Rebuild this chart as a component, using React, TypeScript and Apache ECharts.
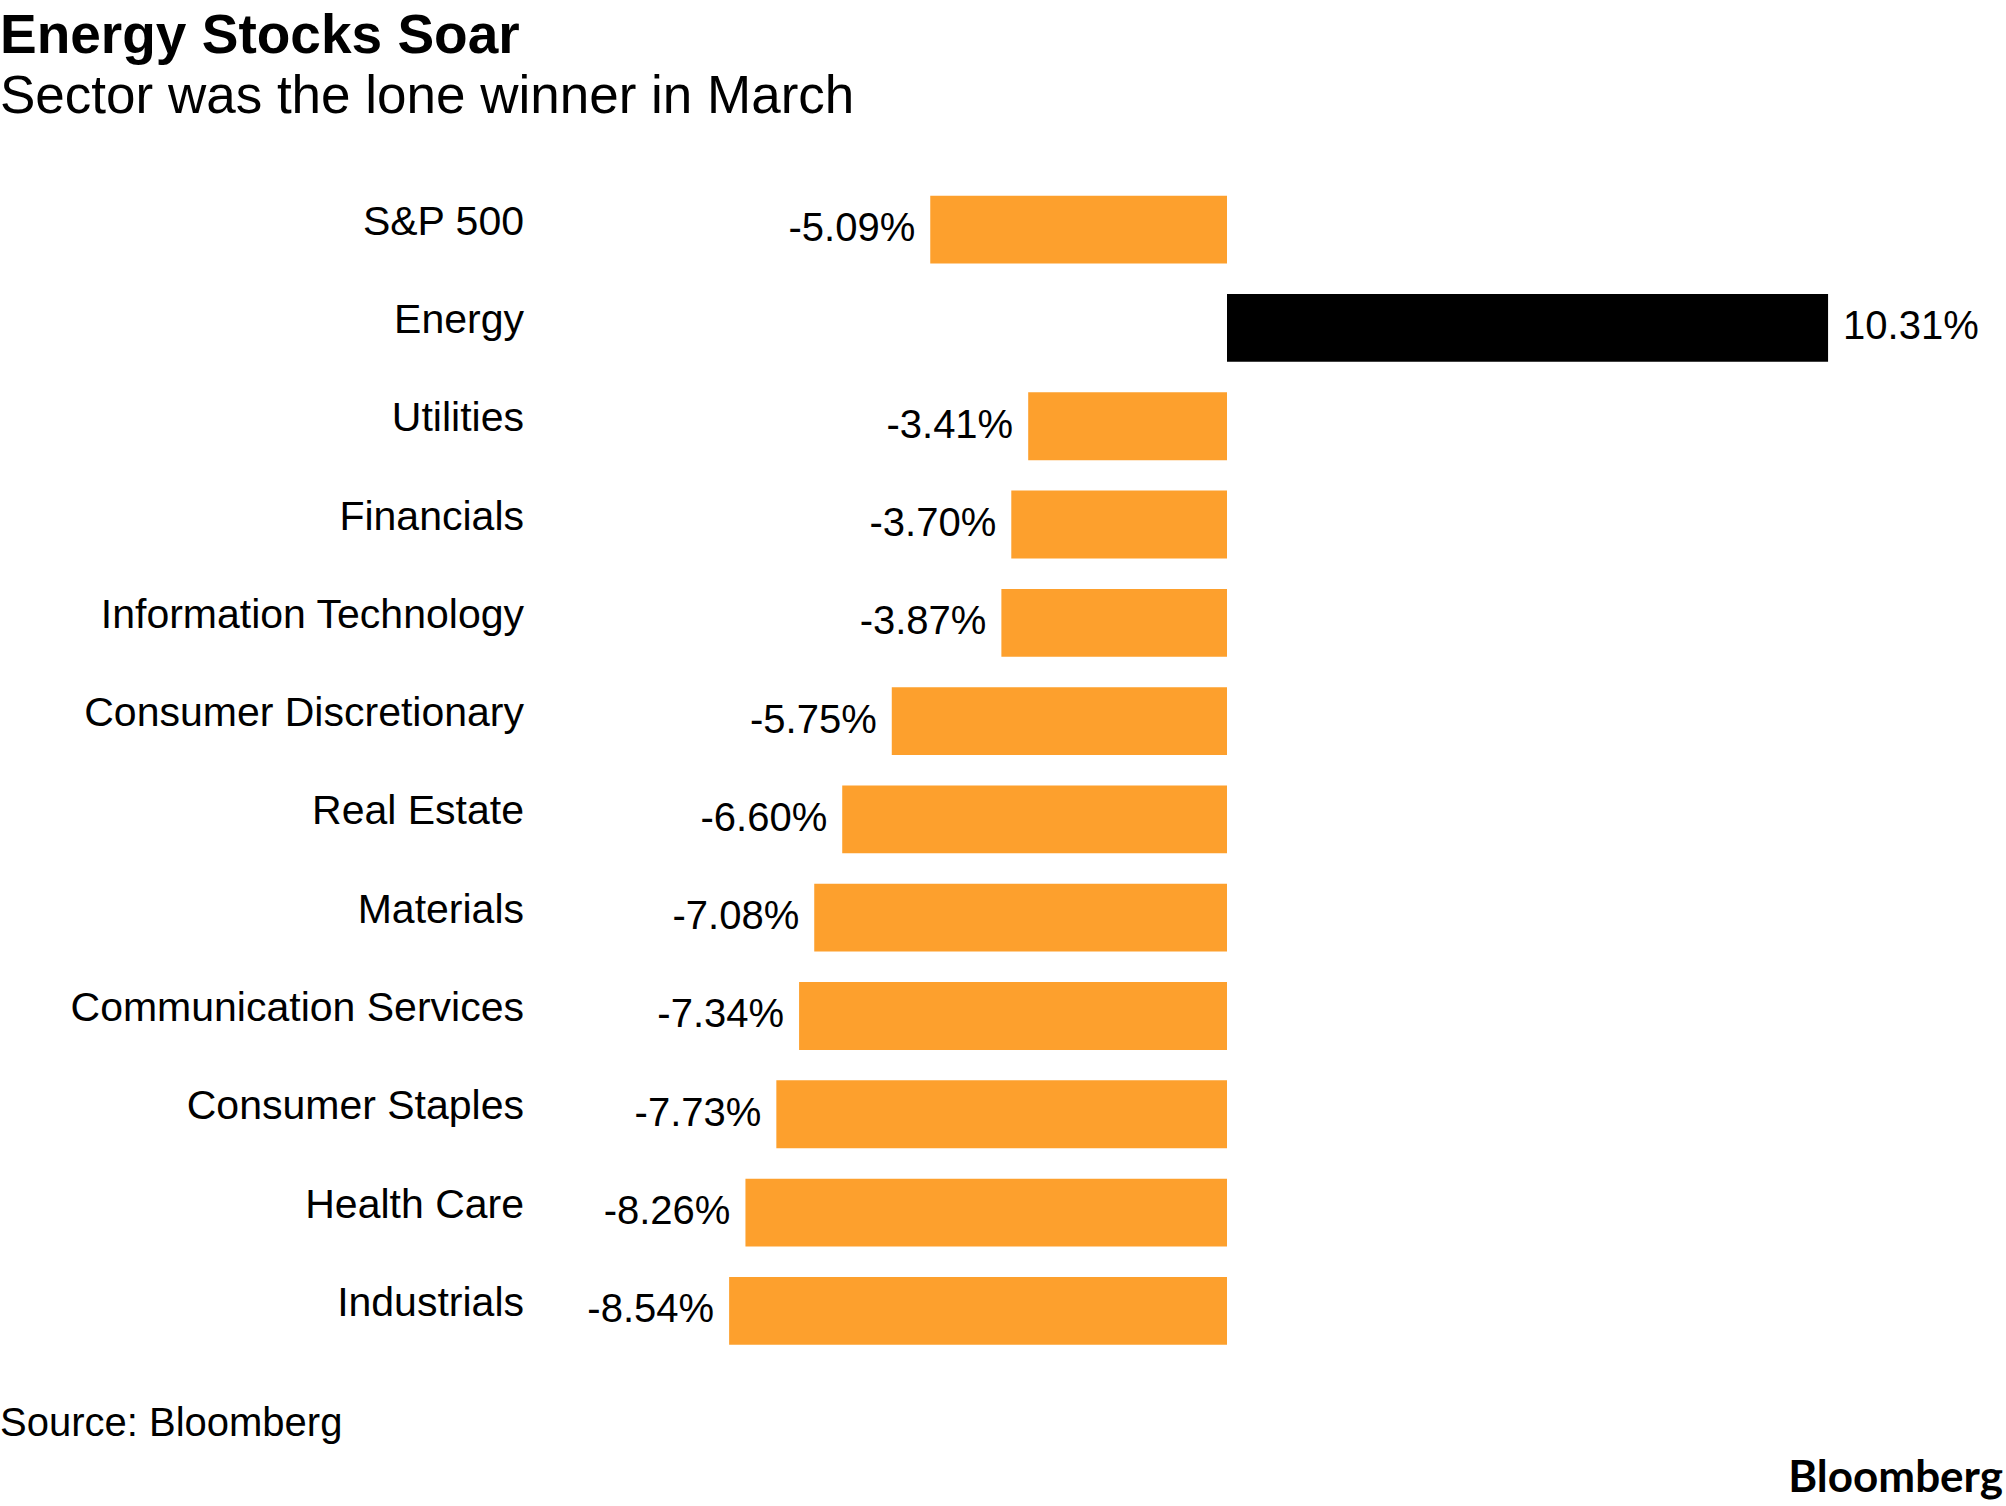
import React, { useEffect, useRef } from "react";
import * as echarts from "echarts";

const categories = [
  "S&P 500",
  "Energy",
  "Utilities",
  "Financials",
  "Information Technology",
  "Consumer Discretionary",
  "Real Estate",
  "Materials",
  "Communication Services",
  "Consumer Staples",
  "Health Care",
  "Industrials",
];
const values = [-5.09, 10.31, -3.41, -3.7, -3.87, -5.75, -6.6, -7.08, -7.34, -7.73, -8.26, -8.54];

const TITLE = "Energy Stocks Soar";
const SUBTITLE = "Sector was the lone winner in March";
const SOURCE = "Source: Bloomberg";
const LOGO = "Bloomberg";

const ORANGE = "#fda02d";
const BLACK = "#000000";
const FONT = "'Liberation Sans', Arial, Helvetica, sans-serif";

export default function App() {
  const ref = useRef<HTMLDivElement>(null);
  useEffect(() => {
    document.body.style.margin = "0";
    if (!ref.current) return;
    const chart = echarts.init(ref.current, undefined, { renderer: "svg" });
    chart.setOption({
      animation: false,
      backgroundColor: "#ffffff",
      textStyle: { fontFamily: FONT },
      grid: { left: 644, right: 79.4, top: 180.5, bottom: 146, containLabel: false },
      xAxis: {
        type: "value",
        min: -10,
        max: 12,
        show: false,
        splitLine: { show: false },
      },
      yAxis: {
        type: "category",
        data: categories,
        inverse: true,
        axisLine: { show: false },
        axisTick: { show: false },
        splitLine: { show: false },
        axisLabel: {
          margin: 120,
          color: "#000",
          formatter: (v: string) => "{c|" + v + "}",
          rich: {
            c: { fontSize: 41, color: "#000", fontFamily: FONT, padding: [0, 0, 18, 0] },
          },
        },
      },
      series: [
        {
          type: "bar",
          barCategoryGap: "31%",
          data: values.map((v) => ({
            value: v,
            itemStyle: { color: v > 0 ? BLACK : ORANGE },
            label: { position: v > 0 ? "right" : "left" },
          })),
          label: {
            show: true,
            distance: 15,
            color: "#000",
            formatter: (p: any) => "{v|" + p.value.toFixed(2) + "%}",
            rich: {
              v: { fontSize: 40, color: "#000", fontFamily: FONT, padding: [0, 0, 5, 0] },
            },
          },
        },
      ],
      graphic: [
        {
          type: "text",
          left: 0,
          top: 6,
          style: { text: TITLE, fontSize: 55, fontWeight: "bold", fill: "#000", fontFamily: FONT },
        },
        {
          type: "text",
          left: 0,
          top: 68,
          style: { text: SUBTITLE, fontSize: 53, fill: "#000", fontFamily: FONT },
        },
        {
          type: "text",
          left: 0,
          top: 1402,
          style: { text: SOURCE, fontSize: 40, fill: "#000", fontFamily: FONT },
        },
        {
          type: "text",
          right: 3,
          top: 1453,
          style: { text: LOGO, fontSize: 44, fontWeight: "bold", fill: "#000", fontFamily: "Lato, 'Liberation Sans', sans-serif" },
        },
      ],
    });
    return () => chart.dispose();
  }, []);
  return <div ref={ref} style={{ width: 2006, height: 1506 }} />;
}
